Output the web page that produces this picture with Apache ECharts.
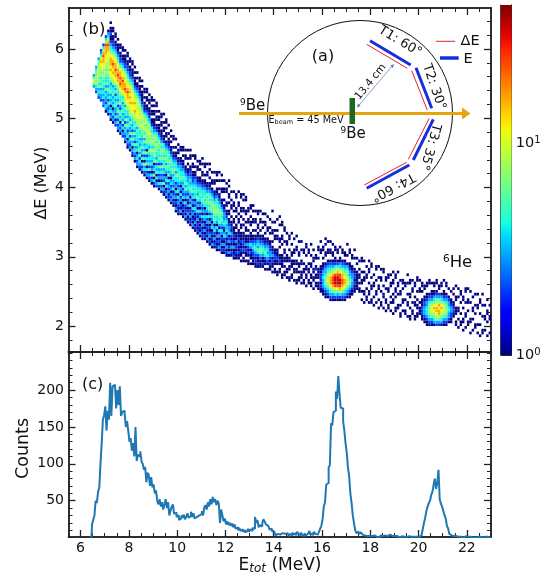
<!DOCTYPE html>
<html><head><meta charset="utf-8">
<style>html,body{margin:0;padding:0;background:#fff}#c{width:554px;height:577px}</style>
<script src="https://cdn.jsdelivr.net/npm/echarts@6/dist/echarts.min.js"></script>
</head><body><div id="c"></div>
<script>
// ---- axis tick labels ----
const xMajor=[6,8,10,12,14,16,18,20,22];
const xMinor=[5.5,6,6.5,7,7.5,8,8.5,9,9.5,10,10.5,11,11.5,12,12.5,13,13.5,14,14.5,15,15.5,16,16.5,17,17.5,18,18.5,19,19.5,20,20.5,21,21.5,22,22.5,23];
const deMajor=[2,3,4,5,6];
const deMinor=[1.8,2,2.2,2.4,2.6,2.8,3,3.2,3.4,3.6,3.8,4,4.2,4.4,4.6,4.8,5,5.2,5.4,5.6,5.8,6,6.2,6.4];
const cntMajor=[50,100,150,200];
const cntMinor=[10,20,30,40,50,60,70,80,90,100,110,120,130,140,150,160,170,180,190,200,210,220,230,240,250];
const cbMajor=[0,1];
const cbMinorCounts=[2,3,4,5,6,7,8,9,20,30,40];
const cbMaxCount=45;
// ---- ΔE-E histogram: one entry per 0.1 MeV column from 6.5 MeV ----
// "firstRow:cells", row r is 1.6+0.04*r MeV, each cell an index into heatLevels
const heatFirstE=6.5, heatEStep=0.1, heatFirstDE=1.6, heatDEStep=0.04;
const heatLevels=[0,1,2,3,4,6,8,11,16,25,36];
const heatColumns=[
"96:35753","94:2346565543","92:234354656676553","91:2334354546567787532","89:23243434545656778898642",
"87:1342334353544565667778889642","86:1323424345354456566677788986431",
"84:132431434354435677878887654321121101","83:13243143435443567787898775432211011",
"82:2314233543425346778898877543211011","80:1324243542534445678898877543211101",
"79:132314354235445678989887542211011","78:231425343544354678889877643211011",
"76:1323435253445366778988767542211101","74:12314324535344667788987765432211011",
"73:13234253345346677878786754322110110","71:12314353524344567778777765432111011",
"69:13234352435345467687787664321110101","67:13243143534445356677767675432110101",
"66:12342535434354456667676654321110110",
"65:1324152435443455675676543211110101","64:124351425343536456566542111010110",
"63:132415342514465567656543211011011","62:12315243434534566765643211101101",
"61:13241324344564565554421101101011","60:12415243154656456564321110110101",
"60:2314153425344556455421101101011","59:124132435245454656432111011010",
"58:132413243524545545321110110110","57:123152324354454564421101101001",
"56:13214243134535645432101101011","55:1213232415345454543211101001",
"54:132313243134545543211010101","53:12132142334355443211010011",
"51:131213241324453544321101001","50:121232414323445443211011010",
"50:13121324131345443321100110","49:121213142324345443211010110",
"48:131212413235354432110011010","47:121321312423444332110101001",
"46:1213121423134543432211001101","45:1312132413243544322110110010",
"44:1213121342314454433211010011","43:12121312413245344321100110100",
"42:13121213241324454432110010110","41:121213124132345444321101100101",
"41:12131213423145454432110100110","40:131212132413445545321100110010",
"39:121321213142454645432110100101","38:131212143134355654432101100100",
"38:12131243145456554321100110010","37:121213124134456554432110010110",
"37:13121324135455544321101001001","36:12131213423454543211001100101",
"36:1213124312443332110100110010","35:12131213243343211011000110100",
"35:1312132143321101100101100101","35:1213121231211010011010010",
"34:1211312121110110010110001","34:1121213111011001011000110",
"34:1121121211100110100110001","33:10112112111011001011000110",
"33:1101212211100101001100101","33:1011213111011010011000110",
"32:11012123111010011001100","32:10112134211100110100110",
"32:1112234321101001100101","31:1121234432110100110010",
"31:1211245343211011000110","31:1112355432110100110010",
"31:12113454321100101001","30:101124543211010011001",
"30:101234343211001100010","30:11212332211001010010",
"29:10112132110100110010001","29:1101122110001101001000",
"28:1100112111000110100010","28:0110121100101100001001",
"27:1100111110001011000110","27:0110101101100100011000",
"27:1011001110001100100","26:1100110110010001100",
"26:0110011101100100010","26:1001101100110001",
"25:1100110110001100010","25:0110101100110001",
"25:1011100110001001","25:1100110100011000",
"24:1001101100010011","24:0110011010001100",
"24:1101100110010001","23:1001101100110010","23:0110110210011000",
"19:00001110111100010011000","19:00011212221110000110010",
"19:00112333433211010011000","19:01123455543321001100101",
"19:01234567665432100110010","19:1234578887543210011001",
"19:1235689998653210110010","19:124579AAA97542110011",
"19:123579AAA98642100110","19:124689AA997543110001",
"19:12357899886532100110","19:12346788765432101100",
"19:012345767554310010001","19:01123455433211000110",
"19:00112334332110011000","19:0001112122110001001",
"19:0000111111100101","19:00011010110100100","19:1001001100100011",
"18:1001100011010001","18:0110010001100100","18:1001100100011001",
"17:0110001100100011","17:1001000110010000","17:0100110001000110",
"16:1001000110010001","16:0110001000110010","16:1000110010000110",
"15:1001100010011000","15:0110000110001100","15:1001010001100100",
"14:1000110100011001","14:0110001011000110","14:0011000100110001",
"13:1100100011000100","13:0010011000101100","13:0110001000011000","13:1000110010001001",
"12:1100100011000110","12:0011001000110010","12:1100011010001100","12:0110110100100011",
"10:00001110100011001","10:00112221110010110","10:01123332211001100",
"10:11234443321100110","10:12345655432100011","10:12356776532110010",
"10:13456787543110110","10:23567887653210011","10:23568878653201100",
"10:13456787543100110","10:12356776532110001","10:12345655432100110",
"10:01233443321001","10:01122332110010","10:00011221100101",
"9:0110011100110001","9:1001001100010010","9:0110010001001100","8:1001100010011000",
"8:0100011000100011","8:0011000100110001","7:1000110000010001",
"7:0100010011000100","7:0011000100100010","7:1001000001100010",
"6:1000100010001100","6:0110000100010001","6:00100011000100",
"6:10000100110001","6:01000011000100"
];
// ---- E_tot histogram: counts per 0.05 MeV bin from 6.45 MeV ----
const cntFirstE=6.45, cntEStep=0.05;
const counts=[
0,18,24,30,50,47,62,68,100,128,160,
166,178,145,172,160,210,165,205,207,206,
175,200,180,205,165,170,172,168,150,158,
145,130,135,118,128,110,150,104,112,110,
117,103,100,92,96,75,88,85,70,82,
68,72,60,64,50,45,52,42,48,38,
45,52,40,48,30,36,42,45,32,34,
28,30,24,26,30,27,31,25,28,33,
27,29,35,28,33,26,28,27,30,29,
32,36,30,41,44,38,48,42,52,45,
55,48,52,44,50,46,20,38,30,22,
26,18,22,17,20,16,19,14,18,12,
14,10,13,9,11,8,10,7,9,12,
8,11,9,13,12,28,20,24,14,17,
15,19,25,22,18,16,14,11,12,9,
8,6,3,5,7,4,3,6,4,5,
3,6,4,2,5,3,7,4,6,3,
8,5,3,7,4,2,6,3,5,4,
9,4,6,3,8,5,4,6,8,12,
16,25,42,48,72,74,95,98,155,152,
170,172,198,188,219,195,176,175,158,145,
128,115,95,83,60,47,30,20,10,6,
8,5,7,6,4,3,5,2,3,2,
3,2,1,3,2,1,2,0,1,3,
2,1,3,4,2,3,4,3,2,1,
2,3,2,1,0,1,2,1,1,2,
1,0,2,1,1,2,1,2,1,2,
1,2,3,5,12,20,27,36,42,47,
50,58,62,72,80,66,74,92,52,46,
42,36,30,26,16,12,5,3,2,2,
1,2,1,1,2,1,1,0,1,2,
1,1,0,1,1,0,1,0,1,1,
0,1,1,0,2,1,0,1,0,0,
1
];
// ---- build ----
const FONT='"DejaVu Sans"';
const heatData=[];
heatColumns.forEach((col,ci)=>{
  const [first,cells]=col.split(':');
  for(let k=0;k<cells.length;k++){
    const lvl=parseInt(cells[k],16);
    if(lvl>0) heatData.push([heatFirstE+ci*heatEStep,heatFirstDE+(+first+k)*heatDEStep,heatLevels[lvl]]);
  }
});
const histData=counts.map((v,i)=>[cntFirstE+i*cntEStep,v]);
function lerp(t,xs,ys){for(let i=1;i<xs.length;i++){if(t<=xs[i])return ys[i-1]+(ys[i]-ys[i-1])*(t-xs[i-1])/(xs[i]-xs[i-1]);}return ys[ys.length-1];}
function jet(t){
  const r=lerp(t,[0,.35,.66,.89,1],[0,0,1,1,.5]),g=lerp(t,[0,.125,.375,.64,.91,1],[0,0,1,1,0,0]),b=lerp(t,[0,.11,.34,.65,1],[.5,1,1,0,0]);
  return 'rgb('+Math.round(r*255)+','+Math.round(g*255)+','+Math.round(b*255)+')';
}
const logMax=Math.log10(cbMaxCount);
const stops=[];for(let i=0;i<=40;i++)stops.push({offset:i/40,color:jet(i/40)});
const INK='#222';
const xAxes=[],yAxes=[];
function baseAxis(grid,min,max,pos){return{type:'value',gridIndex:grid,min,max,position:pos,splitLine:{show:false},axisLine:{show:true,onZero:false,lineStyle:{color:INK,width:1.5}},scale:true};}
function ticked(grid,min,max,pos,values,len,label){
  const a=baseAxis(grid,min,max,pos);
  a.axisTick={show:true,inside:true,length:len,customValues:values,lineStyle:{color:INK,width:len>5?1.3:1}};
  a.axisLabel=label?{show:true,customValues:values,margin:4.5,color:'#111',fontFamily:FONT,fontSize:14,showMinLabel:true,showMaxLabel:true}:{show:false};
  return a;
}
const XR=[5.5,23],DR=[1.625,6.592],CR=[0.8,251.6];
// top panel (grid 0)
xAxes.push(ticked(0,XR[0],XR[1],'bottom',xMinor,4,false));
xAxes.push(ticked(0,XR[0],XR[1],'bottom',xMajor,7,false));
xAxes.push(ticked(0,XR[0],XR[1],'top',xMinor,4,false));
xAxes.push(ticked(0,XR[0],XR[1],'top',xMajor,7,false));
yAxes.push(ticked(0,DR[0],DR[1],'left',deMajor,7,true));
yAxes.push(ticked(0,DR[0],DR[1],'left',deMinor,4,false));
yAxes.push(ticked(0,DR[0],DR[1],'right',deMajor,7,false));
yAxes.push(ticked(0,DR[0],DR[1],'right',deMinor,4,false));
// bottom panel (grid 1)
xAxes.push(ticked(1,XR[0],XR[1],'bottom',xMajor,7,true));
xAxes.push(ticked(1,XR[0],XR[1],'bottom',xMinor,4,false));
xAxes.push(ticked(1,XR[0],XR[1],'top',xMajor,7,false));
xAxes.push(ticked(1,XR[0],XR[1],'top',xMinor,4,false));
yAxes.push(ticked(1,CR[0],CR[1],'left',cntMajor,7,true));
yAxes.push(ticked(1,CR[0],CR[1],'left',cntMinor,4,false));
yAxes.push(ticked(1,CR[0],CR[1],'right',cntMajor,7,false));
yAxes.push(ticked(1,CR[0],CR[1],'right',cntMinor,4,false));
// colour bar (grid 2)
xAxes.push({type:'category',gridIndex:2,data:['c'],show:false});
const cbLabelRich={b:{fontFamily:FONT,fontSize:14.5,color:'#111'},s:{fontFamily:FONT,fontSize:10,color:'#111',verticalAlign:'top',padding:[0,0,6,0]}};
const cbA=baseAxis(2,0,logMax,'right');
cbA.axisLine.lineStyle={color:INK,width:.8};
cbA.axisTick={show:true,inside:true,length:11,customValues:cbMajor,lineStyle:{color:INK,width:1}};
cbA.axisLabel={show:true,customValues:cbMajor,margin:4,formatter:v=>'{b|10}{s|'+Math.round(v)+'}',rich:cbLabelRich,showMinLabel:true};
yAxes.push(cbA);
const cbB=baseAxis(2,0,logMax,'right');
cbB.axisLine.lineStyle={color:INK,width:.8};
cbB.axisTick={show:true,inside:true,length:4,customValues:cbMinorCounts.map(Math.log10),lineStyle:{color:INK,width:1}};
cbB.axisLabel={show:false};
yAxes.push(cbB);
const cbC=baseAxis(2,0,logMax,'left');cbC.axisTick={show:false};cbC.axisLabel={show:false};cbC.axisLine.lineStyle={color:INK,width:.8};
yAxes.push(cbC);

function T(x,y,text,size,rot,align,extra){
  return {type:'text',x,y,rotation:(rot||0)*Math.PI/180,silent:true,z:20,style:Object.assign({text,fill:'#111',font:size+'px "DejaVu Sans"',align:align||'center',verticalAlign:'middle'},extra||{})};
}
function L(x1,y1,x2,y2,color,w){return {type:'line',silent:true,z:19,shape:{x1,y1,x2,y2},style:{stroke:color,lineWidth:w}};}
const RED='#e0242a',BLUE='#1430dc',ORANGE='#e6a50f';
const richBe={s:{fontFamily:FONT,fontSize:9,color:'#111',verticalAlign:'top',padding:[0,0,7,0]},b:{fontFamily:FONT,fontSize:15,color:'#111'}};
const graphics=[
 {type:'circle',silent:true,z:18,shape:{cx:360,cy:113,r:92.5},style:{fill:'transparent',stroke:'#111',lineWidth:1}},
 L(239,113.5,465,113.5,ORANGE,2.8),
 {type:'polygon',silent:true,z:19,shape:{points:[[462,107.5],[470.5,113.5],[462,119.5]]},style:{fill:ORANGE}},
 {type:'rect',silent:true,z:20,shape:{x:349.5,y:98,width:5.5,height:26},style:{fill:'#1c6a1c'}},
 L(370,40.7,410.7,65,BLUE,3),L(366.7,44.3,407.3,68.3,RED,1),
 L(416,67.7,431.7,108.3,BLUE,3),L(411.7,70.7,427.3,110,RED,1),
 L(433.3,119.3,413.3,160,BLUE,3),L(429.3,118.3,408.3,159.3,RED,1),
 L(409.3,165,366.7,188.3,BLUE,3),L(406.7,162.3,364.3,185,RED,1),
 L(436,41.3,455,41.3,RED,1),L(440,58,458.7,58,BLUE,3.5),
 L(357.5,107,393.5,64.5,'#5b7fb5',.7),
 {type:'polygon',silent:true,z:19,shape:{points:[[357,107.7],[358,103.6],[360.6,105.8]]},style:{fill:'#5b7fb5'}},
 {type:'polygon',silent:true,z:19,shape:{points:[[394,64],[390.3,65.8],[392.9,68]]},style:{fill:'#5b7fb5'}},
 T(470,41.5,'ΔE',14.5),T(468,59.5,'E',14.5),
 T(323,57,'(a)',16),
 T(400,41.5,'T1: 60°',13,-31),T(434,87,'T2: 30°',13,-71),T(430,147,'T3: 35°',13,-106),T(393,187,'T4: 60°',13,-152),
 T(370.5,82,'13.4 cm',10.5,51),
 T(240,106,'{s|9}{b|Be}',15,0,'left',{rich:richBe}),
 T(340.5,134,'{s|9}{b|Be}',15,0,'left',{rich:richBe}),
 T(268.5,120.5,'{a|E}{c|beam}{a| = 45 MeV}',9.5,0,'left',{rich:{a:{fontFamily:FONT,fontSize:9.7,color:'#111'},c:{fontFamily:FONT,fontSize:6.5,color:'#555',verticalAlign:'bottom',padding:[3,0,0,0]}}}),
 T(82,30,'(b)',16.5,0,'left'),T(82,385,'(c)',16,0,'left'),
 T(443,263,'{s|6}{b|He}',16,0,'left',{rich:{s:{fontFamily:FONT,fontSize:10.5,color:'#111',verticalAlign:'top',padding:[0,0,7,0]},b:{fontFamily:FONT,fontSize:16.5,color:'#111'}}}),
 T(23,448.5,'Counts',17.5,90),T(42,183,'ΔE (MeV)',16,90),
 T(280,566,'{a|E}{b|tot}{a| (MeV)}',17,0,'center',{rich:{a:{fontFamily:FONT,fontSize:17,color:'#111'},b:{fontFamily:FONT,fontSize:12,fontStyle:'italic',color:'#111',verticalAlign:'bottom',padding:[6,0,0,0]}}})
];
const chart=echarts.init(document.getElementById('c'),null,{renderer:'canvas'});
chart.setOption({
 animation:false,backgroundColor:'#fff',
 grid:[{left:68.5,width:422.5,top:8,height:344,outerBoundsMode:'none'},{left:68.5,width:422.5,top:352,height:185,outerBoundsMode:'none'},{left:500.7,width:11,top:5,height:350,outerBoundsMode:'none'}],
 xAxis:xAxes,yAxis:yAxes,
 graphic:graphics,
 series:[
  {type:'custom',name:'heat',xAxisIndex:0,yAxisIndex:0,coordinateSystem:'cartesian2d',data:heatData,clip:true,progressive:0,
   encode:{x:0,y:1},
   renderItem(params,api){
     const e=api.value(0),d=api.value(1),c=api.value(2);
     const a=api.coord([e,d]),b=api.coord([e+heatEStep,d+heatDEStep]);
     return {type:'rect',shape:{x:a[0],y:b[1],width:b[0]-a[0],height:a[1]-b[1]},style:{fill:jet(Math.log10(c)/logMax)}};
   }},
  {type:'line',name:'counts',xAxisIndex:4,yAxisIndex:4,data:histData,step:'middle',symbol:'none',clip:true,lineStyle:{color:'#1f77b4',width:2}},
  {type:'bar',name:'cb',xAxisIndex:8,yAxisIndex:8,data:[logMax],barWidth:'100%',itemStyle:{color:new echarts.graphic.LinearGradient(0,1,0,0,stops)},z:1}
 ]
});
</script></body></html>
